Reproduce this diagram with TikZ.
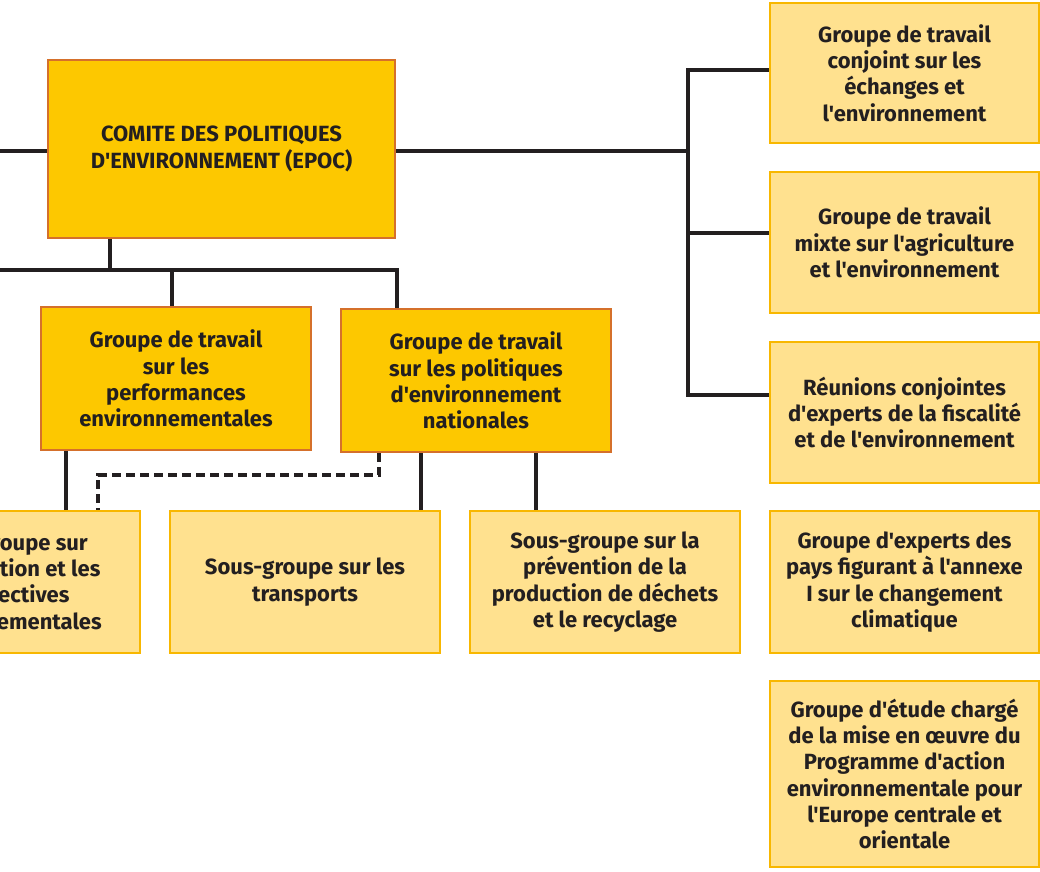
\documentclass[tikz,border=0pt]{standalone}
\usepackage{fontspec}
\setmainfont{Fira Sans}[Ligatures=TeXOff]
\definecolor{ink}{HTML}{231F20}
\definecolor{darkfill}{HTML}{FDC800}
\definecolor{darkedge}{HTML}{D5702B}
\definecolor{lightfill}{HTML}{FFE18F}
\definecolor{lightedge}{HTML}{F8B700}
\tikzset{
  box/.style={rectangle, inner sep=0pt, align=center, text=ink,
    font=\bfseries\fontsize{22}{26.3}\selectfont, line width=2.5pt},
  mainbox/.style={box, fill=darkfill, draw=darkedge},
  subbox/.style={box, fill=lightfill, draw=lightedge},
  conn/.style={draw=ink, line width=4pt},
  dconn/.style={conn, dash pattern=on 9pt off 5pt},
}
\begin{document}
\begin{tikzpicture}[x=1pt,y=-1pt]
\useasboundingbox (0,0) rectangle (1040,871);
\clip (0,0) rectangle (1040,871);
\fill[white] (0,0) rectangle (1040,871);
% nodes
\node[mainbox, minimum width=347pt, minimum height=178pt] (epoc) at (221.5,149) {COMITE DES POLITIQUES\\D'ENVIRONNEMENT (EPOC)};
\node[mainbox, minimum width=270pt, minimum height=143pt] (wg1) at (176,378.5) {Groupe de travail\\sur les\\performances\\environnementales};
\node[mainbox, minimum width=270pt, minimum height=143pt] (wg2) at (476,380.5) {Groupe de travail\\sur les politiques\\d'environnement\\nationales};
\node[subbox, minimum width=270pt, minimum height=142pt] (sgA) at (5,582) {Sous-groupe sur\\l'information et les\\perspectives\\environnementales};
\node[subbox, minimum width=270pt, minimum height=142pt] (sgB) at (305,582) {Sous-groupe sur les\\transports};
\node[subbox, minimum width=270pt, minimum height=142pt] (sgC) at (605,582) {Sous-groupe sur la\\prévention de la\\production de déchets\\et le recyclage};
\node[subbox, minimum width=269pt, minimum height=140pt] (r1) at (904.5,73) {Groupe de travail\\conjoint sur les\\échanges et\\l'environnement};
\node[subbox, minimum width=269pt, minimum height=141pt] (r2) at (904.5,242.5) {Groupe de travail\\mixte sur l'agriculture\\et l'environnement};
\node[subbox, minimum width=269pt, minimum height=141pt] (r3) at (904.5,412.5) {Réunions conjointes\\d'experts de la fiscalité\\et de l'environnement};
\node[subbox, minimum width=269pt, minimum height=142pt] (r4) at (904.5,582) {Groupe d'experts des\\pays figurant à l'annexe\\I sur le changement\\climatique};
\node[subbox, minimum width=269pt, minimum height=186pt] (r5) at (904.5,774) {Groupe d'étude chargé\\de la mise en œuvre du\\Programme d'action\\environnementale pour\\l'Europe centrale et\\orientale};
% coordinates
\coordinate (jL) at (0,151);
\coordinate (jR) at (688,151);
\coordinate (b1) at (688,70);
\coordinate (b2) at (688,233);
\coordinate (b3) at (688,395);
\coordinate (h0) at (0,270);
\coordinate (h1) at (110,270);
\coordinate (h2) at (172,270);
\coordinate (h3) at (397,270);
\coordinate (v1) at (66,480);
\coordinate (v2) at (421,480);
\coordinate (v3) at (536,480);
\coordinate (d1) at (379,475);
\coordinate (d2) at (98,475);
% connectors
\draw[conn] (jL) -- (epoc.west |- jL);
\draw[conn] (epoc.east |- jR) -- (jR);
\draw[conn] (r1.west |- b1) -- (b1) -- (b3) -- (r3.west |- b3);
\draw[conn] (b2) -- (r2.west |- b2);
\draw[conn] (epoc.south -| h1) -- (h1);
\draw[conn] (h0) -- (h3) -- (wg2.north -| h3);
\draw[conn] (h2) -- (wg1.north -| h2);
\draw[conn] (wg1.south -| v1) -- (sgA.north -| v1);
\draw[conn] (wg2.south -| v2) -- (sgB.north -| v2);
\draw[conn] (wg2.south -| v3) -- (sgC.north -| v3);
\draw[dconn] (wg2.south -| d1) -- (d1) -- (d2) -- (sgA.north -| d2);
\end{tikzpicture}
\end{document}
